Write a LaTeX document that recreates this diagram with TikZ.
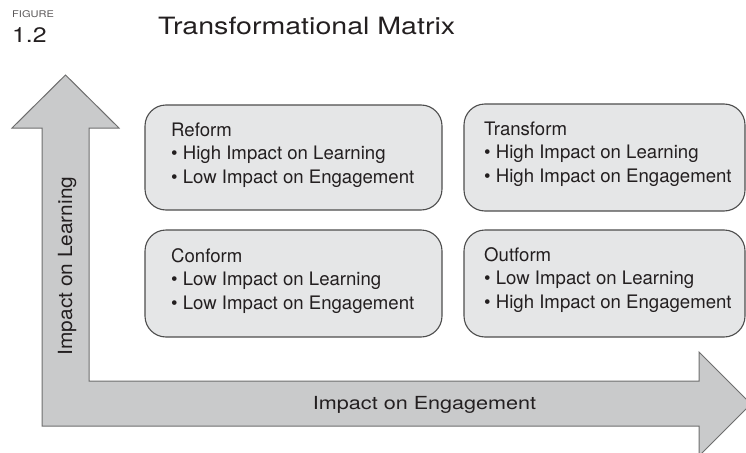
\documentclass[tikz,border=0pt]{standalone}
\usepackage{fontspec}
\setmainfont{TeX Gyre Heros}
\definecolor{boxfill}{HTML}{E5E6E7}
\definecolor{boxline}{HTML}{4D4D4D}
\definecolor{arrowfill}{HTML}{C9CACB}
\definecolor{arrowline}{HTML}{6E6E6E}
\definecolor{ink}{HTML}{231F20}
\begin{document}
\begin{tikzpicture}[x=1pt,y=-1pt,
  quad/.style={draw=boxline,fill=boxfill,line width=1.1pt,rounded corners=21pt},
  quadtext/.style={anchor=west,align=left,inner sep=0pt,text=ink,font=\fontsize{18.6}{23.5}\selectfont},
  axistext/.style={anchor=base,inner sep=0pt,text=ink},
]
\useasboundingbox (0,0) rectangle (746,452);
% L-shaped double axis arrow
\filldraw[fill=arrowfill,draw=arrowline,line width=1pt,line join=miter]
  (42,426) -- (42,128) -- (12,128) -- (65.5,75) -- (119,128) -- (89,128)
  -- (89,381) -- (699,381) -- (699,352) -- (751,404) -- (699,456)
  -- (699,426) -- cycle;
% header
\node[anchor=base west,inner sep=0pt,text=ink!75] (fig) at (12,18)
  {\scalebox{1.2}[1]{\fontsize{9.2}{10}\selectfont FIGURE}};
\node[anchor=base west,inner sep=0pt,text=ink] (num) at (12,43)
  {\scalebox{1.18}[1]{\fontsize{21}{24}\selectfont 1.2}};
\node[anchor=base west,inner sep=0pt,text=ink] (title) at (158,35)
  {\scalebox{1.2}[1]{\fontsize{23.8}{28}\selectfont Transformational Matrix}};
% quadrant boxes
\path[quad] (145,105) rectangle (442,210);
\node[inner sep=0pt,minimum width=297pt,minimum height=105pt] (reform) at (293.5,157.5) {};
\path[quad] (145,230) rectangle (442,337);
\node[inner sep=0pt,minimum width=297pt,minimum height=107pt] (conform) at (293.5,283.5) {};
\path[quad] (464,104) rectangle (745,211);
\node[inner sep=0pt,minimum width=281pt,minimum height=107pt] (transform) at (604.5,157.5) {};
\path[quad] (464,230) rectangle (745,337);
\node[inner sep=0pt,minimum width=281pt,minimum height=107pt] (outform) at (604.5,283.5) {};
% texts
\node[quadtext] (reformtxt) at (171,155) {Reform\\• High Impact on Learning\\• Low Impact on Engagement};
\node[quadtext] (conformtxt) at (171,281) {Conform\\• Low Impact on Learning\\• Low Impact on Engagement};
\node[quadtext] (transformtxt) at (484,154) {Transform\\• High Impact on Learning\\• High Impact on Engagement};
\node[quadtext] (outformtxt) at (484,280) {Outform\\• Low Impact on Learning\\• High Impact on Engagement};
% axis labels
\node[axistext,rotate=90] (ylab) at (72,266)
  {\scalebox{1.07}[1]{\fontsize{19.5}{22}\selectfont Impact on Learning}};
\node[axistext] (xlab) at (424.5,409)
  {\scalebox{1.2}[1]{\fontsize{18}{22}\selectfont Impact on Engagement}};
\end{tikzpicture}
\end{document}
